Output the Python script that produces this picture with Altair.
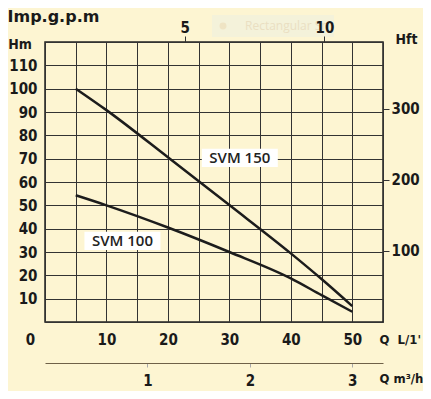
import altair as alt
import pandas as pd

# ---- data ----
Q_POINTS = [5, 10, 20, 30, 40, 45, 50]                 # flow, L/min
H_SVM150 = [100, 90.8, 70.6, 50.1, 29.4, 18.4, 6.8]    # head, m
H_SVM100 = [54.3, 50.0, 40.5, 30.0, 18.7, 11.5, 4.4]   # head, m
SERIES = ["SVM 150", "SVM 100"]
LABEL_Q = [31.7, 12.6]
LABEL_H = [70.3, 34.8]

X_GRID = list(range(0, 56, 5))
Y_GRID = list(range(0, 121, 10))
HFT_TICKS = [100, 200, 300]
IMP_TICKS = [5, 10]
M3_TICKS = [1, 2, 3]
LEGEND_LABEL = ["Rectangular Sn" + "\u00a0" * 20]

Q_MAX = 55
H_MAX = 120
FT_PER_M = 3.28084
L_PER_IMPGAL = 4.54609
M3H_PER_LMIN = 0.06

curve_df = pd.DataFrame({
    "Q": Q_POINTS * 2,
    "H": H_SVM150 + H_SVM100,
    "series": [SERIES[0]] * len(Q_POINTS) + [SERIES[1]] * len(Q_POINTS),
})
label_df = pd.DataFrame({"Q": LABEL_Q, "H": LABEL_H, "text": SERIES})
legend_df = pd.DataFrame({"item": LEGEND_LABEL})

NARROW = "Liberation Sans Narrow, Arial Narrow, DejaVu Sans Condensed, sans-serif"
INK = "#1a1a1a"
GRID = "#333333"
BG = "#fdf5d2"

lab = dict(labelFont=NARROW, labelFontWeight="bold", labelFontSize=15, labelColor=INK)
tit = dict(titleFont=NARROW, titleFontWeight="bold", titleFontSize=14, titleColor=INK)
tit_r = dict(titleFont=NARROW, titleFontWeight="bold", titleFontSize=13, titleColor=INK)

x_main = alt.X(
    "Q:Q",
    scale=alt.Scale(domain=[0, Q_MAX], nice=False, zero=False),
    axis=alt.Axis(
        values=X_GRID, grid=True, gridColor=GRID, gridWidth=1,
        ticks=False, tickSize=0, domain=False, zindex=0,
        labelExpr="datum.value % 10 == 0 && datum.value < 55 ? datum.label : ''",
        labelOffset={"condition": {"test": "datum.value == 0", "value": -15}, "value": 0},
        labelBaseline="alphabetic", labelPadding=22, labelFlush=False, labelOverlap=False,
        title="Q\u00a0 L/1'", titleX=334, titleY=21, titleAlign="left",
        titleBaseline="alphabetic", **lab, **tit_r,
    ),
)
y_main = alt.Y(
    "H:Q",
    scale=alt.Scale(domain=[0, H_MAX], nice=False, zero=False),
    axis=alt.Axis(
        values=Y_GRID, grid=True, gridColor=GRID, gridWidth=1,
        ticks=False, tickSize=0, domain=False, zindex=0,
        labelExpr="datum.value > 0 && datum.value < 120 ? datum.label : ''",
        labelPadding=8, labelAlign="right", labelBaseline="middle",
        labelFlush=False, labelOverlap=False,
        title="Hm", titleAngle=0, titleX=-25.5, titleY=6, titleAlign="center",
        titleBaseline="alphabetic", **lab, **tit,
    ),
)

lines = alt.Chart(curve_df).mark_line(
    color="#1c1c1c", strokeWidth=2.5, interpolate="monotone"
).encode(detail="series:N")

BOX = "M-2.5,-0.6L2.5,-0.6L2.5,0.6L-2.5,0.6Z"
boxes = alt.Chart(label_df).mark_point(
    shape=BOX, filled=True, color="white", opacity=1, size=924, strokeWidth=0
)
texts = alt.Chart(label_df).mark_text(
    font="Open Sans", fontSize=15, fontWeight=600, color="#222222", baseline="middle"
).encode(text="text:N")

inner = alt.layer(lines, boxes, texts).encode(x=x_main, y=y_main)

imp_layer = alt.Chart(curve_df).transform_calculate(
    G=f"datum.Q / {L_PER_IMPGAL}"
).mark_point(opacity=0).encode(
    x=alt.X(
        "G:Q",
        scale=alt.Scale(domain=[0, Q_MAX / L_PER_IMPGAL], nice=False, zero=False),
        axis=alt.Axis(
            orient="top", values=IMP_TICKS, grid=False, domain=False,
            ticks=True, tickSize=6, tickColor=GRID, tickWidth=1, zindex=2,
            labelPadding=4, labelBaseline="alphabetic", labelFlush=False, **lab,
            title="Imp.g.p.m", titleX=-38, titleY=-20.5, titleAlign="left",
            titleBaseline="alphabetic", titleFont="DejaVu Sans", titleFontSize=16,
            titleFontWeight="bold", titleColor=INK,
        ),
    )
)

m3_layer = alt.Chart(curve_df).transform_calculate(
    M=f"datum.Q * {M3H_PER_LMIN}"
).mark_point(opacity=0).encode(
    x=alt.X(
        "M:Q",
        scale=alt.Scale(domain=[0, Q_MAX * M3H_PER_LMIN], nice=False, zero=False),
        axis=alt.Axis(
            orient="bottom", offset=41, values=M3_TICKS, grid=False,
            domain=True, domainColor="#6f6148", domainWidth=1,
            ticks=True, tickSize=4, tickColor="#aaaaaa", tickWidth=1,
            labelPadding=18, labelBaseline="alphabetic", labelFlush=False, **lab,
            title="Q m³/h", titleX=334, titleY=19, titleAlign="left",
            titleBaseline="alphabetic", **tit_r,
        ),
    )
)

hft_layer = alt.Chart(curve_df).transform_calculate(
    F=f"datum.H * {FT_PER_M}"
).mark_point(opacity=0).encode(
    y=alt.Y(
        "F:Q",
        scale=alt.Scale(domain=[0, H_MAX * FT_PER_M], nice=False, zero=False),
        axis=alt.Axis(
            orient="right", values=HFT_TICKS, grid=False, domain=False,
            ticks=True, tickSize=6, tickColor=GRID, tickWidth=1,
            labelPadding=2, labelAlign="left", labelBaseline="middle", labelFlush=False, **lab,
            title="Hft", titleAngle=0, titleX=23, titleY=1, titleAlign="center",
            titleBaseline="alphabetic", **tit,
        ),
    )
)

legend_layer = alt.Chart(legend_df).mark_point(opacity=0, filled=True).encode(
    color=alt.Color(
        "item:N",
        scale=alt.Scale(range=["#efe4c4"]),
        legend=alt.Legend(
            orient="none", legendX=167, legendY=-27, title=None,
            fillColor="#f4f2da", padding=5, zindex=0,
            symbolType="circle", symbolSize=30, symbolOpacity=1,
            symbolFillColor="#efe4c4", symbolStrokeColor="#efe4c4",
            labelFont="Open Sans", labelFontSize=12, labelColor="#eadfc2",
            labelOffset=16,
        ),
    )
)

chart = alt.layer(
    inner, imp_layer, m3_layer, hft_layer, legend_layer
).resolve_scale(
    x="independent", y="independent"
).properties(
    width=338, height=280,
    padding={"left": 37, "top": 34, "right": 40, "bottom": 69},
    autosize=alt.AutoSizeParams(type="none"),
    background=BG,
).configure_view(
    fill="white", stroke="#222222", strokeWidth=1.5
)

chart.save("out.html", embed_options={"renderer": "svg", "actions": False})
